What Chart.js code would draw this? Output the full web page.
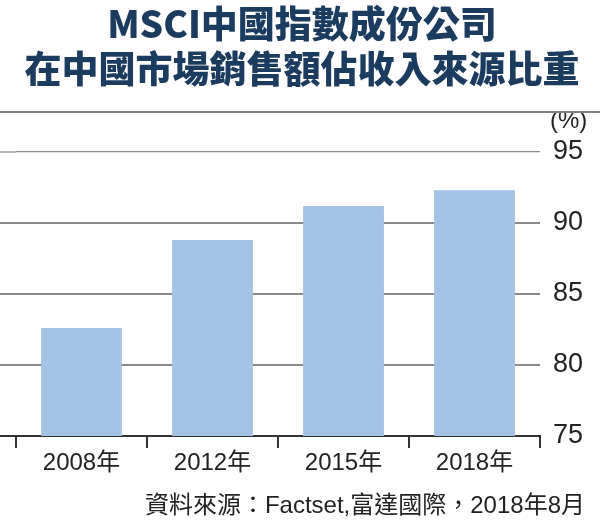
<!DOCTYPE html>
<html>
<head>
<meta charset="utf-8">
<script src="https://cdn.jsdelivr.net/npm/chart.js@4"></script>
<style>
  body { margin: 0; background: #fff; }
  #wrap { position: relative; width: 600px; height: 521px; overflow: hidden; }
  #chart { position: absolute; left: 0; top: 0; }
  .title {
    position: absolute; left: 0; width: 604px; text-align: center;
    font-family: "Noto Sans CJK TC", "Noto Sans", sans-serif; font-weight: 900;
    font-size: 37px; color: #1b3c5e; line-height: 45px;
  }
  #rule { position: absolute; left: 0; top: 111px; width: 600px; height: 2px; background: #808080; }
  #src {
    position: absolute; right: 15px; top: 490px; line-height: 30px;
    font-family: "Liberation Sans", "Noto Sans CJK TC", sans-serif;
    font-size: 24px; color: #222;
  }
</style>
</head>
<body>
<div id="wrap">
  <canvas id="chart" width="600" height="521"></canvas>
  <div class="title" style="top:0px">MSCI中國指數成份公司</div>
  <div class="title" style="top:45px">在中國市場銷售額佔收入來源比重</div>
  <div id="rule"></div>
  <div id="src">資料來源：Factset,富達國際，2018年8月</div>
</div>
<script>
// 數據
const categories = ["2008年", "2012年", "2015年", "2018年"];
const values = [82.6, 88.8, 91.2, 92.3];
const yTicks = [75, 80, 85, 90, 95];

const fontFam = "'Liberation Sans', 'Noto Sans CJK TC', sans-serif";

// 把橫格線延伸到左邊
const extendGrid = {
  id: "extendGrid",
  beforeDatasetsDraw(chart) {
    const c = chart.ctx, y = chart.scales.y, a = chart.chartArea;
    c.save();
    yTicks.forEach(v => {
      const py = y.getPixelForValue(v);
      c.strokeStyle = v === 75 ? "#333" : "#8a8a8a";
      c.lineWidth = v === 95 ? 1.2 : 2;
      c.beginPath();
      c.moveTo(0, py);
      c.lineTo(a.left, py);
      c.stroke();
    });
    c.restore();
  }
};

const ctx = document.getElementById("chart").getContext("2d");
new Chart(ctx, {
  type: "bar",
  data: {
    labels: categories,
    datasets: [{
      data: values,
      backgroundColor: "#a4c2e4",
      barPercentage: 0.617,
      categoryPercentage: 1
    }]
  },
  options: {
    responsive: false,
    animation: false,
    layout: { padding: { left: 16, top: 152, right: 0, bottom: 0 } },
    plugins: { legend: { display: false }, tooltip: { enabled: false } },
    scales: {
      x: {
        afterFit(s) { s.height = 85; },
        border: { display: true, color: "#333", width: 2 },
        grid: { drawOnChartArea: false, drawTicks: true, tickLength: 12, color: "#333", lineWidth: 2, offset: true },
        ticks: { color: "#222", font: { family: fontFam, size: 24 }, padding: 1 }
      },
      y: {
        position: "right",
        min: 75, max: 95,
        afterFit(s) { s.width = 60; },
        afterBuildTicks(s) { s.ticks = yTicks.map(v => ({ value: v })); },
        border: { display: false },
        grid: {
          drawTicks: false,
          color: ctx => ctx.tick.value === 75 ? "#333" : "#8a8a8a",
          lineWidth: ctx => ctx.tick.value === 95 ? 1.2 : 2
        },
        ticks: { color: "#222", font: { family: fontFam, size: 27 }, padding: 13 }
      }
    }
  },
  plugins: [extendGrid, {
    id: "unit",
    afterDraw(chart) {
      const c = chart.ctx;
      c.save();
      c.fillStyle = "#222";
      c.font = "24px " + fontFam;
      c.textBaseline = "middle";
      c.fillText("(%)", chart.chartArea.right + 10, chart.scales.y.getPixelForValue(95) - 31);
      c.restore();
    }
  }]
});
</script>
</body>
</html>
